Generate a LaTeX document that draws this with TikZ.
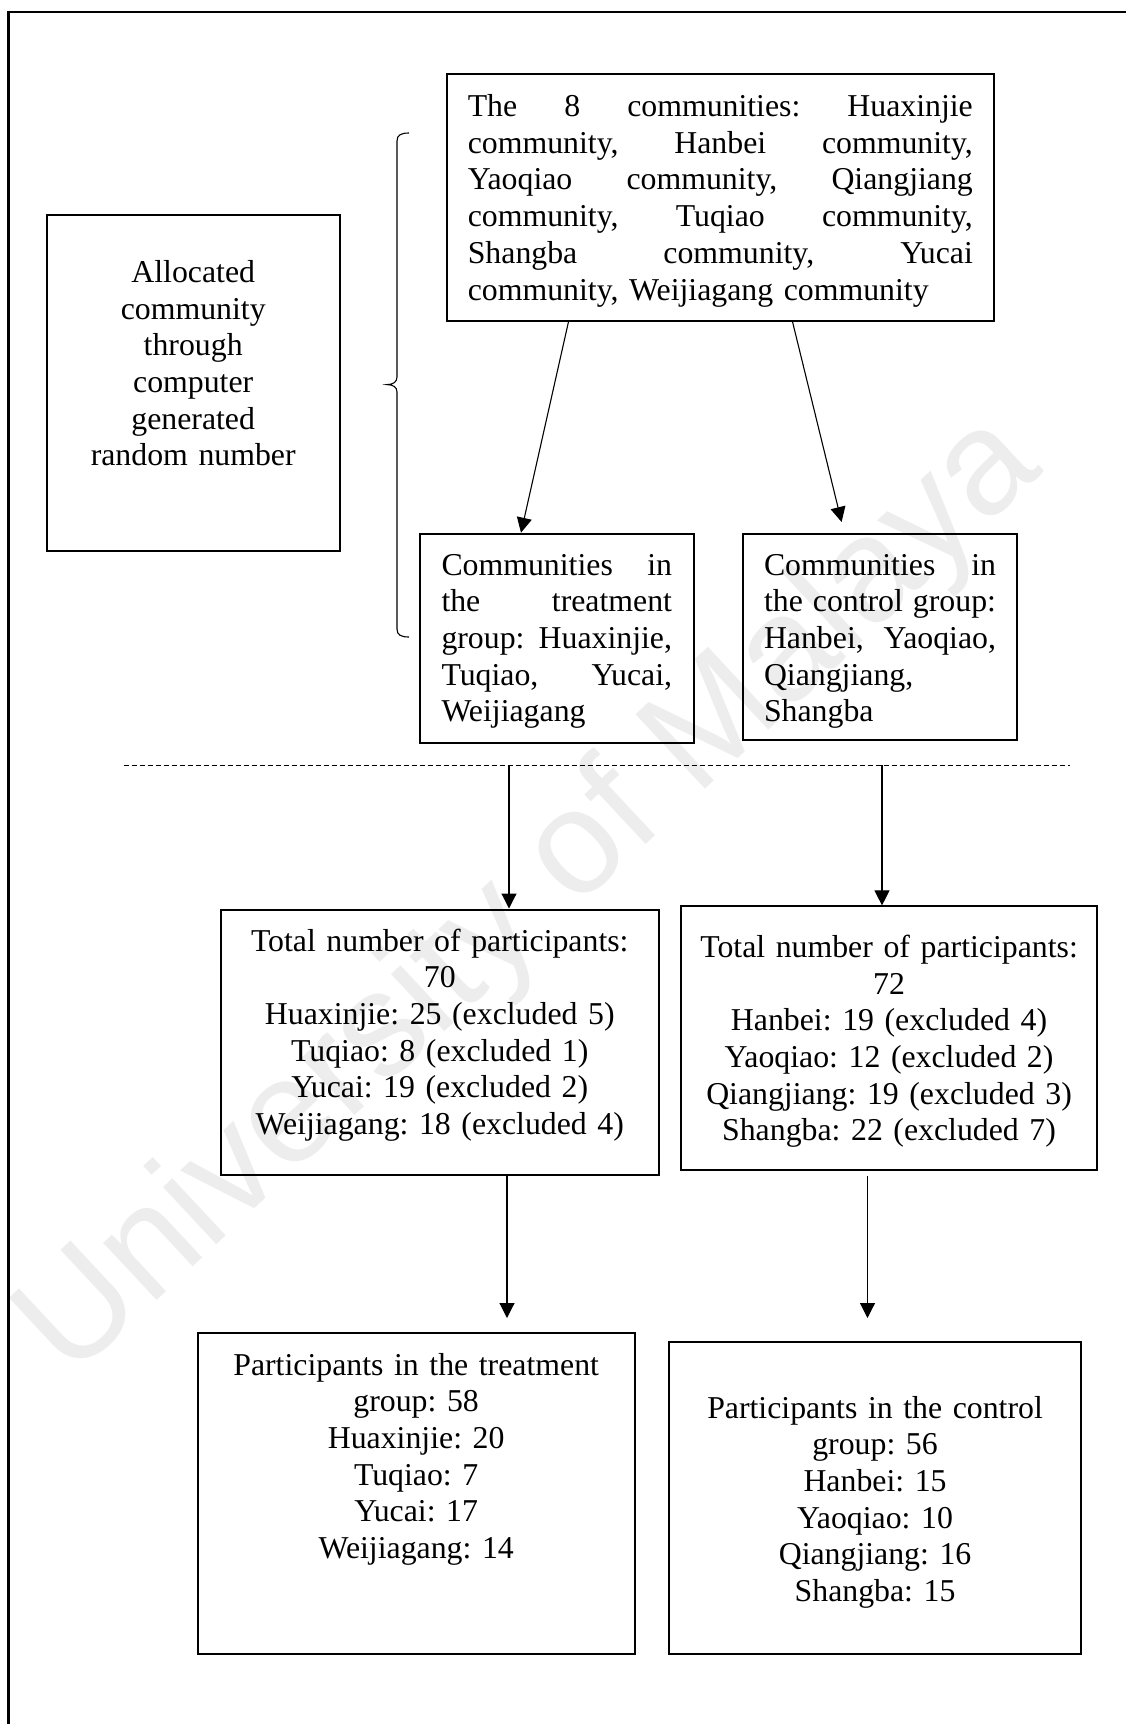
\documentclass[tikz,border=0pt]{standalone}
\usepackage{fontspec}
\setmainfont{Liberation Serif}
\newfontfamily\wmfont{Liberation Sans}
\usetikzlibrary{arrows.meta}

% one justified line (equal word spaces) and one left-aligned line
\newcommand\jline[1]{\leavevmode\hbox to\hsize{\spaceskip=.25em plus 1fil\relax #1}}
\newcommand\lline[1]{\leavevmode\hbox to\hsize{#1\hfil}}

\tikzset{
  flowbox/.style={draw, line width=2pt, anchor=base, inner ysep=0pt,
    font=\fontsize{31.8pt}{36.7pt}\selectfont\frenchspacing},
  flowarrow/.style={line width=1.1pt, -{Triangle[length=15pt,width=15pt]}},
  thinline/.style={line width=1.1pt},
}

\begin{document}
\begin{tikzpicture}[x=1pt,y=-1pt]
\useasboundingbox (0,0) rectangle (1126,1724);

% watermark
\node[rotate=43, text=black!7, font=\wmfont\fontsize{148pt}{152pt}\selectfont] (wm) at (532,898) {University of Malaya};

% page frame
\draw[line width=2.2pt] (8.5,1724) -- (8.5,11.7) -- (1126,11.7);

% allocation note
\node[flowbox, align=center, text width=260pt, inner xsep=16.5pt,
      text height=67.3pt, text depth=268.7pt] (alloc) at (193.2,282.3)
  {Allocated\\ community\\ through\\ computer\\ generated\\ random number};

% all communities
\node[flowbox, align=left, text width=505pt, inner xsep=21.1pt,
      text height=42.5pt, text depth=204.2pt] (pool) at (720.3,116.5)
  {\jline{The 8 communities: Huaxinjie}\\
   \jline{community, Hanbei community,}\\
   \jline{Yaoqiao community, Qiangjiang}\\
   \jline{community, Tuqiao community,}\\
   \jline{Shangba community, Yucai}\\
   \lline{community, Weijiagang community}};

% group communities
\node[flowbox, align=left, text width=230.5pt, inner xsep=21.5pt,
      text height=41.3pt, text depth=167.7pt] (treat) at (556.75,575)
  {\jline{Communities in}\\
   \jline{the treatment}\\
   \jline{group: Huaxinjie,}\\
   \jline{Tuqiao, Yucai,}\\
   \lline{Weijiagang}};

\node[flowbox, align=left, text width=232pt, inner xsep=21pt,
      text height=41.3pt, text depth=165pt] (ctrl) at (880,575)
  {\jline{Communities in}\\
   \jline{the control group:}\\
   \jline{Hanbei, Yaoqiao,}\\
   \lline{Qiangjiang,}\\
   \lline{Shangba}};

% enrolled participants
\node[flowbox, align=center, text width=400pt, inner xsep=18.75pt,
      text height=41.5pt, text depth=223.8pt] (tot1) at (439.75,951)
  {Total number of participants:\\ 70\\ Huaxinjie: 25 (excluded 5)\\
   Tuqiao: 8 (excluded 1)\\ Yucai: 19 (excluded 2)\\ Weijiagang: 18 (excluded 4)};

\node[flowbox, align=center, text width=390pt, inner xsep=13.25pt,
      text height=50.9pt, text depth=212.3pt] (tot2) at (889.05,957.3)
  {Total number of participants:\\ 72\\ Hanbei: 19 (excluded 4)\\
   Yaoqiao: 12 (excluded 2)\\ Qiangjiang: 19 (excluded 3)\\ Shangba: 22 (excluded 7)};

% analysed participants
\node[flowbox, align=center, text width=400pt, inner xsep=18.65pt,
      text height=42.2pt, text depth=279pt] (res1) at (416.15,1375)
  {Participants in the treatment\\ group: 58\\ Huaxinjie: 20\\ Tuqiao: 7\\
   Yucai: 17\\ Weijiagang: 14};

\node[flowbox, align=center, text width=380pt, inner xsep=15.75pt,
      text height=76.4pt, text depth=236pt] (res2) at (875.05,1418)
  {Participants in the control\\ group: 56\\ Hanbei: 15\\ Yaoqiao: 10\\
   Qiangjiang: 16\\ Shangba: 15};

% brace grouping the randomisation step
\draw[thinline] (409,133) .. controls (401,133) and (397,135) .. (397,141)
  -- (397,377) .. controls (397,382) and (393,384.6) .. (387,384.6)
  .. controls (393,384.6) and (397,387) .. (397,392)
  -- (397,629) .. controls (397,635) and (401,637) .. (409,637);

% separator
\coordinate (dashL) at (123.5,765.2);
\coordinate (dashR) at (1070,765.2);
\draw[thinline, dash pattern=on 5pt off 3pt] (dashL) -- (dashR);

% connectors
\coordinate (a2tip) at (841.6,522);
\draw[flowarrow] ([xshift=122.8pt]pool.south west) -- ([xshift=102pt]treat.north west);
\draw[flowarrow] ([xshift=346.8pt]pool.south west) -- (a2tip);

\coordinate (a3top) at (509,765.2);
\coordinate (a4top) at (882,765.2);
\draw[flowarrow] (a3top) -- (a3top |- tot1.north);
\draw[flowarrow] (a4top) -- (a4top |- tot2.north);

\coordinate (a5x) at (507,0);
\coordinate (a5tip) at (507,1318);
\coordinate (a6top) at (867.5,1175.6);
\coordinate (a6tip) at (867.5,1318);
\draw[flowarrow] (a5x |- tot1.south) -- (a5tip);
\draw[flowarrow] (a6top) -- (a6tip);
\end{tikzpicture}
\end{document}
